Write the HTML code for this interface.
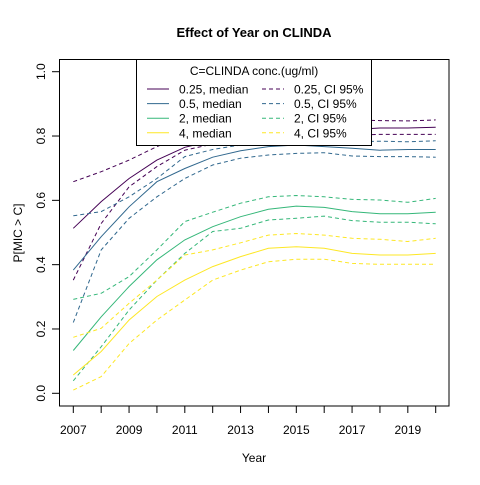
<!DOCTYPE html>
<html><head><meta charset="utf-8"><style>
body{margin:0;background:#fff}
svg text{font-family:"Liberation Sans",Arial,sans-serif;fill:#000}
</style></head><body>
<svg id="chart" width="480" height="480" viewBox="0 0 480 480">
<text x="254" y="37" text-anchor="middle" font-size="13" font-weight="bold">Effect of Year on CLINDA</text>
<text x="0" y="0" transform="translate(22,233) rotate(-90)" text-anchor="middle" font-size="12">P[MIC &gt; C]</text>
<text x="254" y="462" text-anchor="middle" font-size="12">Year</text>
<g id="axes"></g>
<g id="series"></g>
<rect x="59.5" y="59.5" width="389.5" height="346.5" fill="none" stroke="#000"/>
<g id="legend"></g>
</svg>
<script>
const years=[2007,2008,2009,2010,2011,2012,2013,2014,2015,2016,2017,2018,2019,2020];
const xTicks=[2007,2008,2009,2010,2011,2012,2013,2014,2015,2016,2017,2018,2019,2020];
const xLabels=[2007,2009,2011,2013,2015,2017,2019];
const yTicks=[0,0.2,0.4,0.6,0.8,1.0];
const yTickLabels=["0.0","0.2","0.4","0.6","0.8","1.0"];
const med025=[0.513,0.596,0.668,0.725,0.765,0.785,0.80,0.81,0.815,0.82,0.82,0.825,0.825,0.827];
const up025=[0.658,0.689,0.725,0.767,0.80,0.82,0.83,0.84,0.845,0.85,0.85,0.848,0.847,0.85];
const lo025=[0.352,0.528,0.642,0.705,0.756,0.775,0.785,0.795,0.80,0.802,0.803,0.805,0.805,0.805];
const med05=[0.383,0.487,0.580,0.658,0.699,0.734,0.754,0.767,0.772,0.767,0.762,0.756,0.758,0.758];
const up05=[0.552,0.565,0.611,0.668,0.736,0.758,0.772,0.777,0.782,0.782,0.782,0.784,0.782,0.785];
const lo05=[0.220,0.446,0.544,0.611,0.668,0.710,0.731,0.741,0.746,0.748,0.738,0.736,0.736,0.734];
const med2=[0.133,0.238,0.332,0.415,0.477,0.518,0.549,0.572,0.582,0.578,0.565,0.558,0.558,0.563];
const up2=[0.292,0.311,0.363,0.446,0.534,0.563,0.591,0.611,0.615,0.611,0.603,0.601,0.594,0.606];
const lo2=[0.039,0.145,0.259,0.352,0.435,0.503,0.513,0.539,0.544,0.551,0.537,0.532,0.532,0.527];
const med4=[0.057,0.130,0.228,0.301,0.352,0.394,0.425,0.451,0.456,0.451,0.435,0.430,0.430,0.435];
const up4=[0.174,0.202,0.280,0.352,0.430,0.446,0.468,0.492,0.497,0.492,0.482,0.479,0.472,0.482];
const lo4=[0.010,0.052,0.155,0.228,0.290,0.352,0.383,0.409,0.417,0.417,0.404,0.401,0.401,0.401];
const NS='http://www.w3.org/2000/svg';
const xs=y=>73.3+(y-2007)*(435.7-73.3)/13;
const ys=v=>393.3-v*(393.3-71.7);
function mk(t,a,p){const e=document.createElementNS(NS,t);for(const k in a)e.setAttribute(k,a[k]);p.appendChild(e);return e;}
const ax=document.getElementById('axes');
xTicks.forEach(t=>{const l=mk('line',{x1:xs(t),x2:xs(t),y1:406,y2:413,stroke:'#000'},ax);

});
xLabels.forEach(t=>{const e=mk('text',{x:xs(t),y:434,'text-anchor':'middle','font-size':12},ax);e.textContent=t;

});
yTicks.forEach((t,i)=>{const l=mk('line',{x1:52,x2:59,y1:ys(t),y2:ys(t),stroke:'#000'},ax);


const e=mk('text',{x:0,y:0,transform:`translate(45,${ys(t)}) rotate(-90)`,'text-anchor':'middle','font-size':12},ax);e.textContent=yTickLabels[i];

});
const cols=['#440154','#31688E','#35B779','#FDE725'];
const groups=[[med025,up025,lo025],[med05,up05,lo05],[med2,up2,lo2],[med4,up4,lo4]];
const names=['0.25','0.5','2','4'];
const sg=document.getElementById('series');
groups.forEach((g,gi)=>{g.forEach((arr,k)=>{
const d=arr.map((v,i)=>(i?'L':'M')+xs(years[i]).toFixed(1)+','+ys(v).toFixed(1)).join('');
const p=mk('path',{d:d,fill:'none',stroke:cols[gi],'stroke-width':1,'stroke-dasharray':k?'4,3':'none'},sg);

});});
const lg=document.getElementById('legend');
const box=mk('rect',{x:136.5,y:59.5,width:235,height:86,fill:'#fff',stroke:'#000'},lg);


const lt=mk('text',{x:254,y:75,'text-anchor':'middle','font-size':12},lg);lt.textContent='C=CLINDA conc.(ug/ml)';


names.forEach((n,i)=>{const y=89+i*14.6;
[[147,179,'median','none'],[262,294,'CI 95%','4,3']].forEach(([lx,tx,lab,da])=>{
mk('line',{x1:lx,x2:lx+22,y1:y,y2:y,stroke:cols[i],'stroke-dasharray':da},lg);
const t=mk('text',{x:tx,y:y+4.5,'font-size':12},lg);t.textContent=n+', '+lab;

});});
</script>
</body></html>
